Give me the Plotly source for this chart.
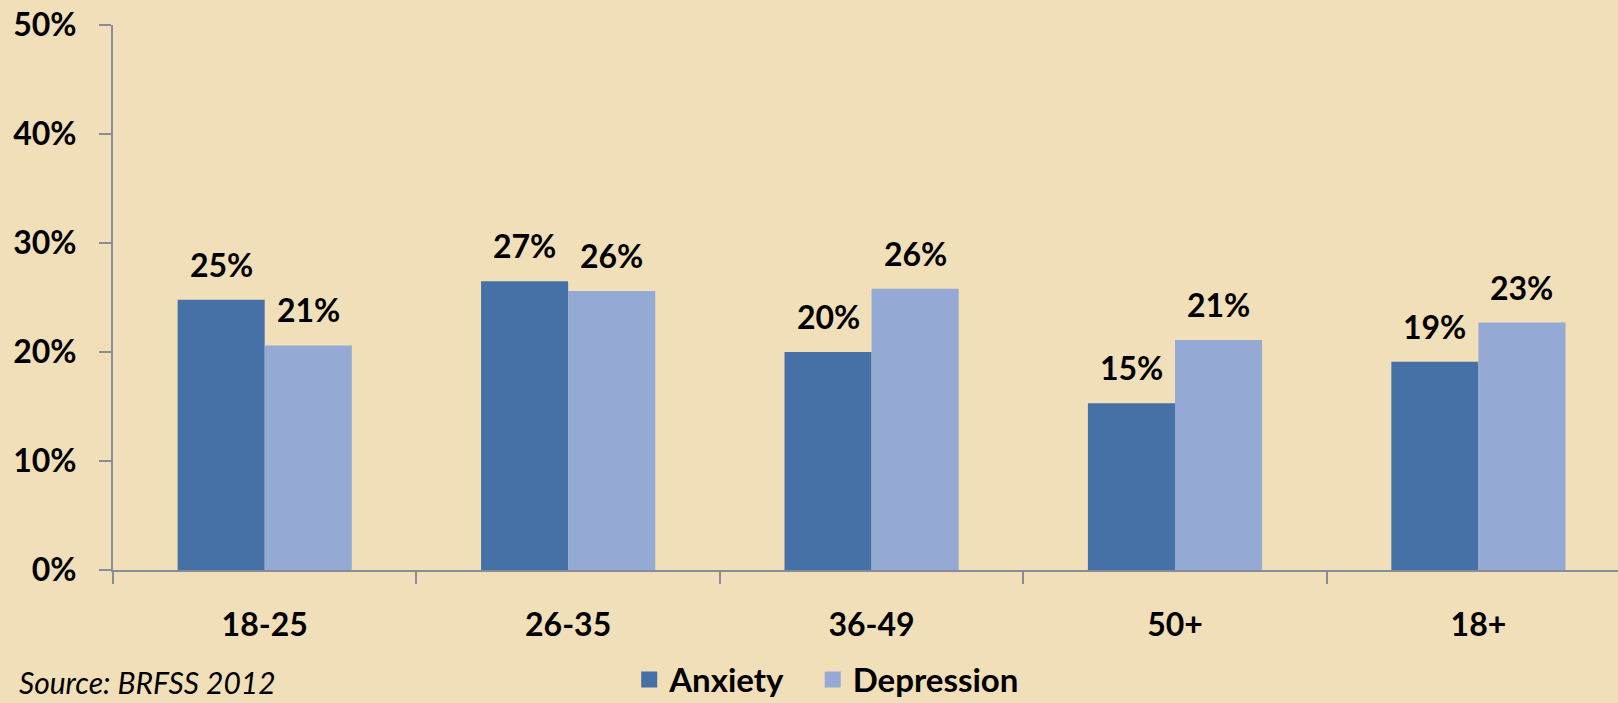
import plotly.graph_objects as go

age_groups = ["18-25", "26-35", "36-49", "50+", "18+"]
anxiety = [24.8, 26.5, 20.0, 15.3, 19.1]
depression = [20.6, 25.6, 25.8, 21.1, 22.7]
anxiety_labels = ["25%", "27%", "20%", "15%", "19%"]
depression_labels = ["21%", "26%", "26%", "21%", "23%"]
y_ticks = [0, 10, 20, 30, 40, 50]
y_tick_labels = ["0%", "10%", "20%", "30%", "40%", "50%"]

anxiety_color = "#4571A7"
depression_color = "#94A9D3"
axis_color = "#878C96"
bg = "#F0DFB9"
font_family = "Lato, 'Open Sans', sans-serif"

bar_px = 87  # width of one bar in pixels, used to centre labels over bars

fig = go.Figure()
annotations = []
for name, vals, labels, color, shift in [
    ("Anxiety", anxiety, anxiety_labels, anxiety_color, -bar_px / 2),
    ("Depression", depression, depression_labels, depression_color, bar_px / 2),
]:
    fig.add_trace(go.Bar(
        x=age_groups, y=vals, name=name,
        marker=dict(color=color, line_width=0),
        showlegend=False,
    ))
    for cat, v, lab in zip(age_groups, vals, labels):
        annotations.append(dict(
            x=cat, y=v, xref="x", yref="y", text=lab, showarrow=False,
            xanchor="center", yanchor="bottom", xshift=shift, yshift=14,
            font=dict(size=32, color="black", weight="bold"),
        ))

# legend entries with larger square swatches
for name, color in [("Anxiety", anxiety_color), ("Depression", depression_color)]:
    fig.add_trace(go.Scatter(
        x=[None], y=[None], mode="markers", name=name + "   ",
        marker=dict(symbol="square", size=20, color=color),
    ))

annotations.append(dict(
    text="Source: BRFSS 2012", xref="paper", yref="paper",
    x=-0.0638, y=-0.243, xanchor="left", yanchor="bottom", showarrow=False,
    font=dict(size=30, style="italic", weight="normal", color="black"),
))

fig.update_layout(
    width=1618, height=703,
    margin=dict(l=113, r=0, t=25, b=133, autoexpand=False),
    paper_bgcolor=bg, plot_bgcolor=bg,
    barmode="group", bargap=0.426, bargroupgap=0,
    font=dict(family=font_family, size=32, color="black", weight="bold"),
    legend=dict(
        orientation="h", x=0.343, xanchor="left", y=-0.201, yanchor="middle",
        font=dict(size=33, weight="bold"), bgcolor="rgba(0,0,0,0)",
        itemwidth=30, tracegroupgap=0,
    ),
    annotations=annotations,
)
fig.update_xaxes(
    range=[-0.5, 4.46], showline=True, linecolor=axis_color, linewidth=2,
    ticks="outside", tickson="boundaries", ticklen=12, tickcolor=axis_color,
    tickwidth=2, ticklabelstandoff=26, showgrid=False, zeroline=False,
)
fig.update_yaxes(
    range=[0, 50], tickvals=y_ticks, ticktext=y_tick_labels,
    showline=True, linecolor=axis_color, linewidth=2,
    ticks="outside", ticklen=12, tickcolor=axis_color, tickwidth=2,
    ticklabelstandoff=16, showgrid=False, zeroline=False,
)

fig.write_html(
    "out.html",
    config={"displayModeBar": False},
    post_script="document.body.style.margin='0';",
)
